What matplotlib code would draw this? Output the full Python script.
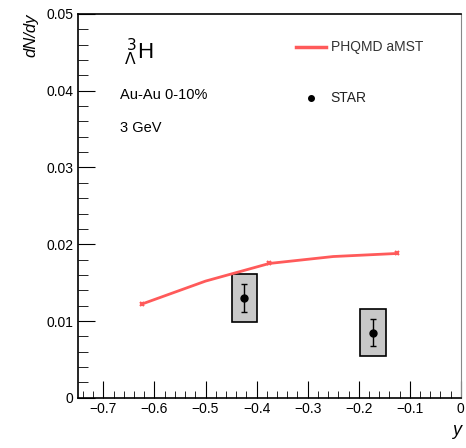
import numpy as np
import matplotlib.pyplot as plt
from matplotlib.patches import Rectangle
from matplotlib.ticker import MultipleLocator

plt.rcParams['font.family'] = ['Liberation Sans', 'DejaVu Sans']

# PHQMD aMST model curve
model_y = [-0.625, -0.5, -0.375, -0.25, -0.125]
model_dndy = [0.0122, 0.0152, 0.0175, 0.0184, 0.0188]

# STAR measurement: value, stat. error, syst. error, box half-width
star_y = [-0.424, -0.172]
star_dndy = [0.0130, 0.0085]
star_stat = [0.0018, 0.00175]
star_syst = [0.0031, 0.0031]
star_halfw = [0.025, 0.025]

fig = plt.figure(figsize=(4.66, 4.48), dpi=100)
ax = fig.add_axes([0.167, 0.112, 0.822, 0.857])

# systematic boxes
for x, v, s, w in zip(star_y, star_dndy, star_syst, star_halfw):
    ax.add_patch(Rectangle((x - w, v - s), 2 * w, 2 * s, facecolor='#c8c8c8',
                           edgecolor='black', linewidth=1.2, zorder=2))

ax.plot(model_y, model_dndy, color='#ff5a5a', linewidth=2, marker='x',
        markersize=3, markeredgewidth=1.5, markevery=[0, 2, 4], zorder=3)
ax.errorbar(star_y, star_dndy, yerr=star_stat, fmt='o', color='black',
            markersize=5, elinewidth=1, capsize=2.5, capthick=1, zorder=4)

ax.set_xlim(-0.75, 0)
ax.set_ylim(0, 0.05)
ax.xaxis.set_minor_locator(MultipleLocator(0.02))
ax.yaxis.set_minor_locator(MultipleLocator(0.002))
ax.set_xticks(np.arange(-0.7, 0.01, 0.1))
ax.set_xticklabels(['\u22120.7', '\u22120.6', '\u22120.5', '\u22120.4',
                    '\u22120.3', '\u22120.2', '\u22120.1', '0'])
ax.set_yticks([0, 0.01, 0.02, 0.03, 0.04, 0.05])
ax.set_yticklabels(['0', '0.01', '0.02', '0.03', '0.04', '0.05'])
ax.tick_params(which='both', direction='in', top=False, right=False,
               labelsize=10, pad=3)
ax.tick_params(axis='y', which='major', length=12)
ax.tick_params(axis='y', which='minor', length=7)
ax.tick_params(axis='x', which='major', length=12)
ax.tick_params(axis='x', which='minor', length=5)
for side in ['left', 'bottom', 'top']:
    ax.spines[side].set_linewidth(1.2)
ax.spines['right'].set_color('#888888')

ax.set_ylabel('dN/dy', fontsize=12, style='italic', loc='top', labelpad=6)
ax.set_xlabel('y', fontsize=13, style='italic', loc='right', labelpad=4)

# legend entries
ax.plot([-0.322, -0.265], [0.0457, 0.0457], color='#ff5a5a', linewidth=2.5)
ax.text(-0.255, 0.0457, 'PHQMD aMST', fontsize=10, va='center',
        color='#333333')
ax.plot([-0.294], [0.0391], 'o', color='black', markersize=4)
ax.text(-0.255, 0.0391, 'STAR', fontsize=10, va='center', color='#222222')

ax.text(-0.66, 0.0450, r'$^{\,3}_{\Lambda}$H', fontsize=16, va='center')
ax.text(-0.668, 0.0395, 'Au-Au 0-10%', fontsize=10.5, va='center')
ax.text(-0.668, 0.0352, '3 GeV', fontsize=10.5, va='center')

fig.savefig('out.png', dpi=100)
